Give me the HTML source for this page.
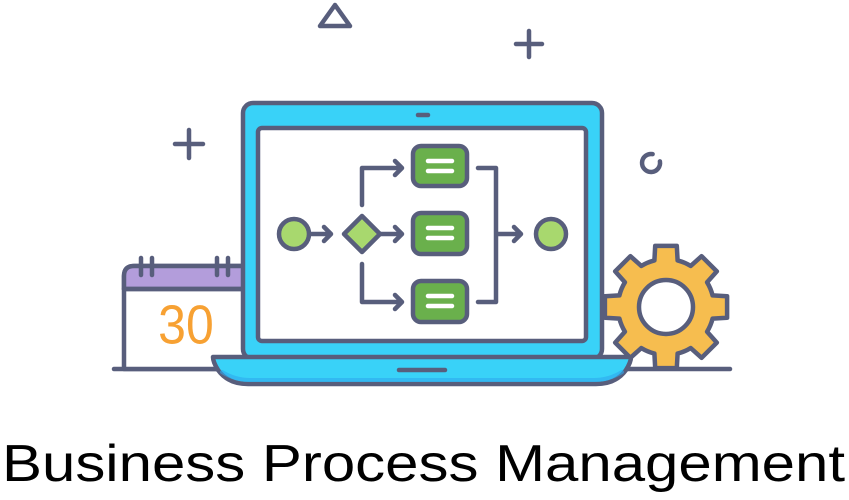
<!DOCTYPE html>
<html><head><meta charset="utf-8"><style>
html,body{margin:0;padding:0;background:#fff;}
svg{display:block;}
</style></head><body>
<svg width="849" height="500" viewBox="0 0 849 500" xmlns="http://www.w3.org/2000/svg">
<g stroke="#585e7c" stroke-width="4.5" stroke-linecap="round" stroke-linejoin="round" fill="none">
  <path d="M335 5 L350 26 L320 26 Z"/>
  <path d="M516 44 H542 M529 31 V57"/>
  <path d="M175 144 H203 M189 130 V158"/>
  <path d="M652.6 154.1 A9 9 0 1 0 659.9 161.4" />
  <path d="M114 369 H730"/>
  <path d="M124 369 V276 Q124 266 134 266 H246 V369 Z" fill="#fff"/>
  <path d="M124 289 V276 Q124 266 134 266 H246 V289 Z" fill="#b39ddb"/>
  <path d="M124 289 H246"/>
  <path d="M141 258 V275 M152 258 V275 M217 258 V275 M228 258 V275"/>
  <path id="gear" fill="#f6bd4f"/>
  <circle cx="666" cy="307" r="27" fill="#fff"/>
  <rect x="243" y="103" width="359" height="256" rx="10" fill="#39d2f8"/>
  <rect x="258" y="128" width="328" height="213" rx="4" fill="#fff"/>
  <path d="M418 115 H428"/>
  <path d="M213 357 H631 Q631 362 626 370 Q616 384 596 384 H248 Q228 384 218 370 Q213 362 213 357 Z" fill="#39d2f8"/>
  <path d="M222 372 Q235 380 250 380 H594 Q609 380 622 372" stroke="#2fa8ef" stroke-width="4" opacity="0.6"/>
  <path d="M399 370 H445"/>
  <circle cx="294" cy="234" r="15" fill="#a8d86e"/>
  <path d="M311 234 H330 M324 227 L331 234 L324 241"/>
  <path d="M362 216 L380 234 L362 252 L344 234 Z" fill="#a8d86e"/>
  <path d="M380 234 H401 M395 227 L402 234 L395 241"/>
  <path d="M362 205 V168 H401 M395 161 L402 168 L395 175"/>
  <path d="M362 264 V302 H401 M395 295 L402 302 L395 309"/>
  <rect x="413" y="146" width="54" height="40" rx="8" fill="#6ab04c"/>
  <rect x="413" y="213" width="54" height="41" rx="8" fill="#6ab04c"/>
  <rect x="413" y="281" width="54" height="41" rx="8" fill="#6ab04c"/>
  <path d="M478 168 H496 V302 H478"/>
  <path d="M498 234 H520 M514 227 L521 234 L514 241"/>
  <circle cx="551" cy="234" r="15" fill="#a8d86e"/>
  <g stroke="#fff" stroke-width="4.5">
    <path d="M428 161 H452 M428 171 H452"/>
    <path d="M428 228 H452 M428 238 H452"/>
    <path d="M428 296 H452 M428 306 H452"/>
  </g>
</g>
<text x="186" y="343" font-family="Liberation Sans, sans-serif" font-size="50" fill="#f7a133" text-anchor="middle" transform="translate(0,-34) scale(1,1.1)">30</text>
<text x="2" y="481" font-family="Liberation Sans, sans-serif" font-size="52" fill="#000" textLength="843" lengthAdjust="spacingAndGlyphs">Business Process Management</text>
<script>
(function(){
 var cx=666,cy=307,R=62,r=48,d="";
 for(var i=0;i<8;i++){
  var t=(i*45-90)*Math.PI/180, a1=14*Math.PI/180, a2=10*Math.PI/180;
  var pts=[[r,t-a1],[R,t-a2],[R,t+a2],[r,t+a1]];
  pts.forEach(function(p,j){
   var x=(cx+p[0]*Math.cos(p[1])).toFixed(1), y=(cy+p[0]*Math.sin(p[1])).toFixed(1);
   d+=(i==0&&j==0?"M":(j==0?"A"+r+" "+r+" 0 0 1 ":"L"))+x+" "+y+" ";
  });
 }
 var t0=(-90-14)*Math.PI/180;
 d+="A"+r+" "+r+" 0 0 1 "+(cx+r*Math.cos(t0)).toFixed(1)+" "+(cy+r*Math.sin(t0)).toFixed(1)+" Z";
 document.getElementById("gear").setAttribute("d",d);
})();
</script>
</svg>
</body></html>
